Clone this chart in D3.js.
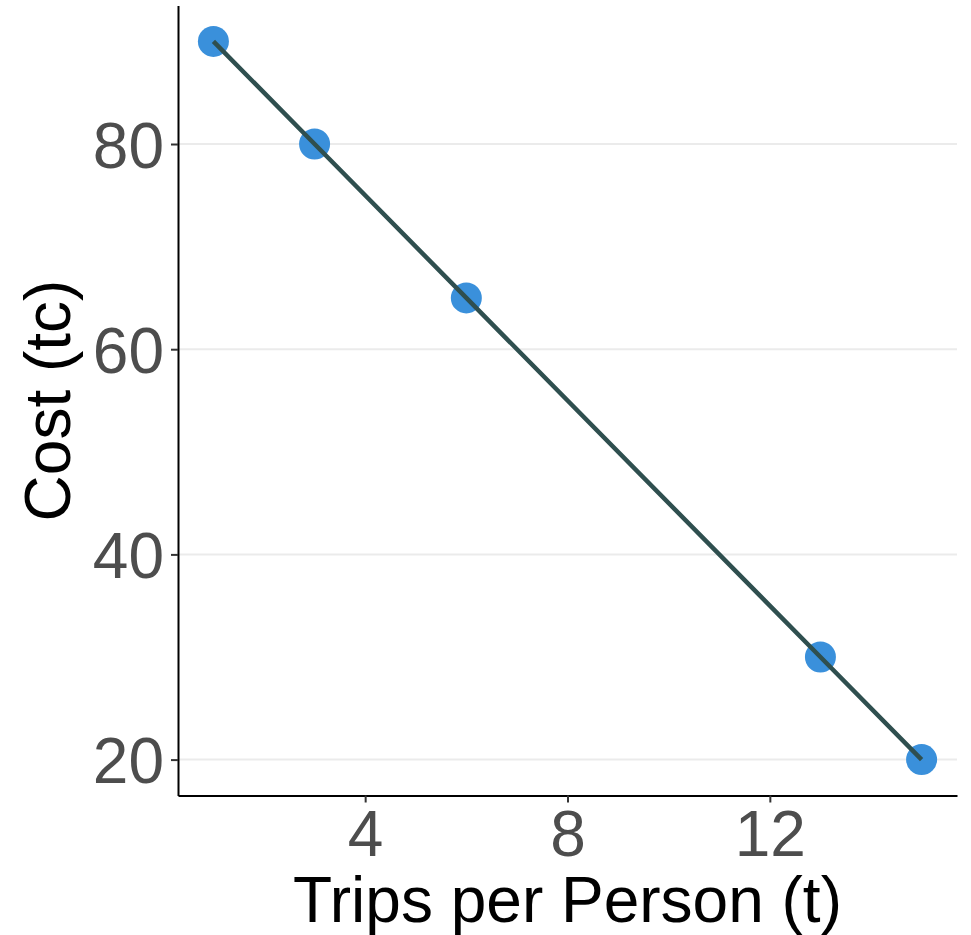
<!DOCTYPE html>
<html>
<head>
<meta charset="utf-8">
<script src="https://cdn.jsdelivr.net/npm/d3@7"></script>
<style>
  body { margin: 0; background: #fff; }
  svg { display: block; font-family: "Liberation Sans", Arial, Helvetica, sans-serif; }
</style>
</head>
<body>
<div id="chart"></div>
<script>
// trips per person vs. travel cost
var trips = [1, 3, 6, 13, 15];
var cost = [90, 80, 65, 30, 20];
var xTicks = [4, 8, 12];
var yTicks = [20, 40, 60, 80];
var xLabel = "Trips per Person (t)";
var yLabel = "Cost (tc)";

var width = 971, height = 935;
var plot = {left: 178, right: 957, top: 5.5, bottom: 795.5};

var data = trips.map(function(t, i) { return {t: t, c: cost[i]}; });

var x = d3.scaleLinear().domain([0.3, 15.7]).range([plot.left, plot.right]);
var y = d3.scaleLinear().domain([16.5, 93.5]).range([plot.bottom, plot.top]);

var svg = d3.select("#chart").append("svg")
    .attr("width", width)
    .attr("height", height);

// horizontal grid
svg.append("g").selectAll("line")
    .data(yTicks)
    .enter().append("line")
    .attr("x1", plot.left).attr("x2", plot.right)
    .attr("y1", function(d) { return y(d); })
    .attr("y2", function(d) { return y(d); })
    .attr("stroke", "#ebebeb")
    .attr("stroke-width", 2);

var xAxis = d3.axisBottom(x).tickValues(xTicks).tickSize(7).tickSizeOuter(0).tickPadding(8);
var yAxis = d3.axisLeft(y).tickValues(yTicks).tickSize(7).tickSizeOuter(0).tickPadding(7);

var gx = svg.append("g")
    .attr("transform", "translate(0," + plot.bottom + ")")
    .call(xAxis);
var gy = svg.append("g")
    .attr("transform", "translate(" + plot.left + ",0)")
    .call(yAxis);

[gx, gy].forEach(function(g) {
    g.attr("font-size", null).attr("font-family", null);
    g.select(".domain").attr("stroke", "#000").attr("stroke-width", 2);
    g.selectAll(".tick line").attr("stroke", "#333").attr("stroke-width", 2);
    g.selectAll(".tick text")
        .attr("fill", "#4d4d4d")
        .style("font-size", "64px");
});
gy.selectAll(".tick text").attr("dy", "0.36em");

// line through the points
var line = d3.line()
    .x(function(d) { return x(d.t); })
    .y(function(d) { return y(d.c); });

svg.selectAll(".point")
    .data(data)
    .enter().append("circle")
    .attr("class", "point")
    .attr("r", 15.5)
    .attr("cx", function(d) { return x(d.t); })
    .attr("cy", function(d) { return y(d.c); })
    .attr("fill", "#3a90db");

svg.append("path")
    .datum(data)
    .attr("d", line)
    .attr("fill", "none")
    .attr("stroke", "#2f4f4f")
    .attr("stroke-width", 4.5);

// axis titles
svg.append("text")
    .attr("x", (plot.left + plot.right) / 2)
    .attr("y", 922)
    .attr("text-anchor", "middle")
    .style("font-size", "64px")
    .attr("fill", "#000")
    .text(xLabel);

svg.append("text")
    .attr("transform", "translate(70," + ((plot.top + plot.bottom) / 2) + ") rotate(-90)")
    .attr("text-anchor", "middle")
    .style("font-size", "64px")
    .attr("fill", "#000")
    .text(yLabel);
</script>
</body>
</html>
